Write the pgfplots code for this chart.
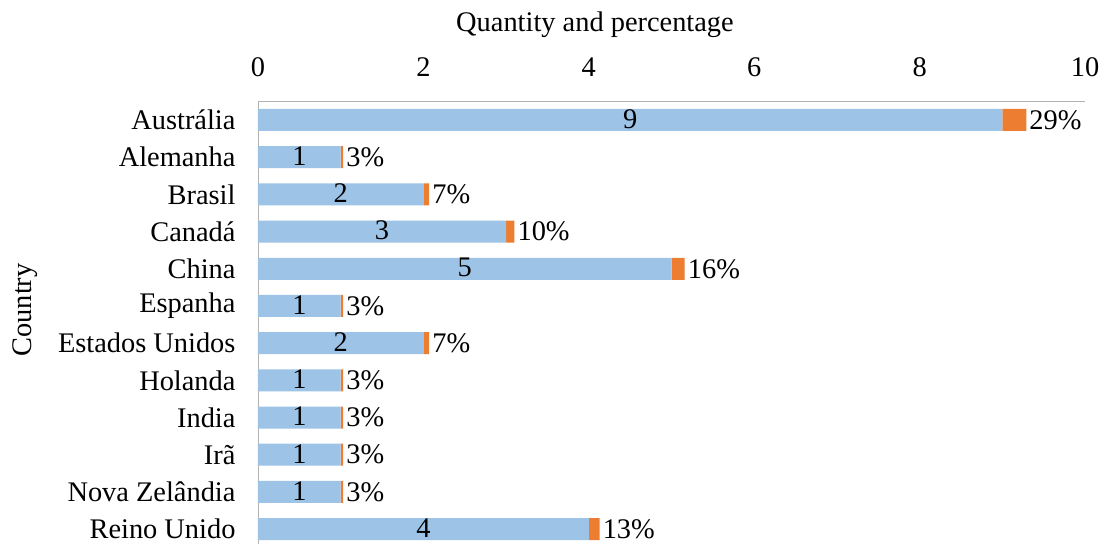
\documentclass[border=0pt]{standalone}
\usepackage{fontspec}
\setmainfont{Liberation Serif}
\usepackage{pgfplots}
\usepackage{pgfplotstable}
\pgfplotsset{compat=1.18}
\definecolor{barblue}{HTML}{9DC3E6}
\definecolor{barorange}{HTML}{ED7D31}
\pgfplotstableread{
idx n p pct
0 9 0.29 29
1 1 0.03 3
2 2 0.07 7
3 3 0.10 10
4 5 0.16 16
5 1 0.03 3
6 2 0.07 7
7 1 0.03 3
8 1 0.03 3
9 1 0.03 3
10 1 0.03 3
11 4 0.13 13
}\datatable
\pgfplotsset{common/.style={
  at={(0,0)}, anchor=south west,
  scale only axis, width=827bp, height=442.6bp,
  xmin=0, xmax=10, ymin=-0.5, ymax=11.4, y dir=reverse, clip=false}}
\begin{document}
\begin{tikzpicture}[x=1bp,y=1bp,font=\fontsize{28.5}{32}\selectfont]
\begin{axis}[
  common,
  xbar stacked, bar width=22bp,
  axis x line*=top, axis y line*=left,
  axis line style={draw=gray!60, line width=0.8pt},
  xtick={0,2,4,6,8,10},
  ytick={0,...,11},
  yticklabels={Austrália,Alemanha,Brasil,Canadá,China,Espanha,Estados Unidos,Holanda,India,Irã,Nova Zelândia,Reino Unido},
  major tick length=0,
  /pgf/number format/assume math mode=true,
  xticklabel style={anchor=base, yshift=25bp},
  yticklabel style={xshift=-19bp},
]
\addplot[fill=barblue, draw=none] table[x=n, y=idx] {\datatable};
\addplot[fill=barorange, draw=none] table[x=p, y=idx] {\datatable};
\end{axis}
\begin{axis}[common, hide axis]
\addplot[only marks, mark=none,
  nodes near coords,
  point meta=explicit,
  /pgf/number format/assume math mode=true,
  every node near coord/.style={anchor=center, inner sep=0pt, yshift=1bp}]
  table[x expr=\thisrow{n}/2, y=idx, meta=n] {\datatable};
\addplot[only marks, mark=none,
  nodes near coords={\pgfmathprintnumber{\pgfplotspointmeta}\%},
  point meta=explicit,
  /pgf/number format/assume math mode=true,
  every node near coord/.style={anchor=west, inner sep=0pt, xshift=3bp, yshift=0bp}]
  table[x expr=\thisrow{n}+\thisrow{p}, y=idx, meta=pct] {\datatable};
\end{axis}
\node at (337,519) {Quantity and percentage};
\node[rotate=90] at (-233,234) {Country};
\pgfresetboundingbox
\path[use as bounding box] (-258,0) rectangle (849,544);
\end{tikzpicture}
\end{document}
